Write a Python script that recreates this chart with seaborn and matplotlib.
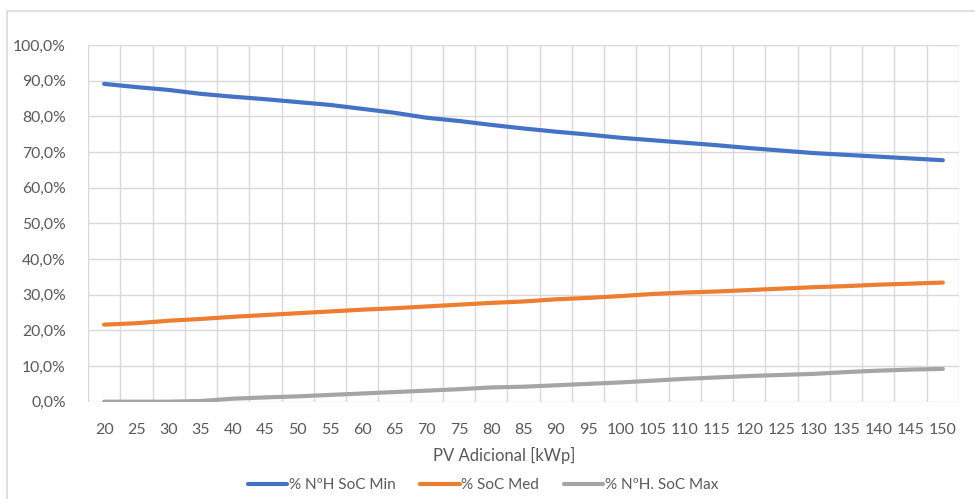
import numpy as np
import pandas as pd
import matplotlib
matplotlib.use("Agg")
import matplotlib.pyplot as plt
from matplotlib.ticker import FuncFormatter, MultipleLocator, FixedLocator
from matplotlib.patches import Rectangle
import seaborn as sns

# Additional PV capacity [kWp]
pv_kwp = list(range(20, 155, 5))

# Share of hours at minimum state of charge [%]
soc_min = [89.1, 88.2, 87.4, 86.3, 85.5, 84.8, 84.0, 83.2, 82.1, 81.0,
           79.6, 78.7, 77.6, 76.6, 75.7, 74.9, 74.0, 73.3, 72.6, 71.9,
           71.1, 70.4, 69.7, 69.2, 68.7, 68.2, 67.7]
# Mean state of charge [%]
soc_med = [21.6, 22.0, 22.7, 23.2, 23.8, 24.3, 24.8, 25.3, 25.8, 26.2,
           26.7, 27.2, 27.7, 28.1, 28.7, 29.1, 29.6, 30.2, 30.6, 30.9,
           31.3, 31.7, 32.1, 32.4, 32.8, 33.1, 33.4]
# Share of hours at maximum state of charge [%]
soc_max = [0.0, 0.0, 0.0, 0.2, 0.85, 1.2, 1.5, 1.9, 2.3, 2.7,
           3.1, 3.5, 4.0, 4.2, 4.6, 5.0, 5.4, 5.9, 6.4, 6.8,
           7.2, 7.5, 7.8, 8.3, 8.7, 9.0, 9.2]

series_names = ["% NºH SoC Min", "% SoC Med", "% NºH. SoC Max"]
series_colors = ["#4472C4", "#ED7D31", "#A5A5A5"]
x_label = "PV Adicional [kWp]"

df = pd.DataFrame({
    "pv": pv_kwp * 3,
    "value": soc_min + soc_med + soc_max,
    "serie": [series_names[0]] * len(pv_kwp)
             + [series_names[1]] * len(pv_kwp)
             + [series_names[2]] * len(pv_kwp),
})

sns.set_theme(style="white")
plt.rcParams["font.family"] = ["Lato", "DejaVu Sans"]
text_color = "#595959"
grid_color = "#D9D9D9"

fig = plt.figure(figsize=(9.75, 4.99), dpi=100)
ax = fig.add_axes([88 / 975, 1 - 401.7 / 499, (959 - 88) / 975, (401.7 - 45) / 499])

sns.lineplot(data=df, x="pv", y="value", hue="serie", hue_order=series_names,
             palette=series_colors, linewidth=3.0, ax=ax, legend=False,
             solid_capstyle="round")

ax.set_xlim(17.5, 152.5)
ax.set_ylim(0, 100)

# Category-style x axis: labels at each value, gridlines between them
ax.xaxis.set_major_locator(FixedLocator(pv_kwp))
ax.xaxis.set_minor_locator(FixedLocator([v - 2.5 for v in pv_kwp] + [pv_kwp[-1] + 2.5]))
ax.yaxis.set_major_locator(MultipleLocator(10))
ax.yaxis.set_major_formatter(FuncFormatter(lambda v, p: f"{v:.1f}%".replace(".", ",")))

ax.grid(False)
ax.grid(True, which="minor", axis="x", color=grid_color, linewidth=1.0)
ax.grid(True, which="major", axis="y", color=grid_color, linewidth=1.0)
ax.set_axisbelow(True)
for s in ax.spines.values():
    s.set_visible(False)

ax.tick_params(axis="both", which="both", length=0, labelcolor=text_color)
ax.tick_params(axis="x", pad=15, labelsize=11.5)
ax.tick_params(axis="y", pad=16, labelsize=11.3)
ax.set_xlabel("")
ax.set_ylabel("")

fig.text(504 / 975, 1 - 455 / 499, x_label, ha="center", va="center",
         fontsize=12, color=text_color)

handles = [plt.Line2D([], [], color=c, linewidth=3.0, solid_capstyle="round")
           for c in series_colors]
fig.legend(handles, series_names, loc="center", bbox_to_anchor=(483 / 975, 1 - 485 / 499),
           ncol=3, frameon=False, fontsize=11, labelcolor=text_color,
           handlelength=2.6, handletextpad=0.1, columnspacing=1.6)

# Chart area border
fig.patches.append(Rectangle((6.5 / 975, -0.1), 1.2, 1 - 10.5 / 499 + 0.1,
                             transform=fig.transFigure, fill=False,
                             edgecolor="#D9D9D9", linewidth=1.2))

fig.savefig("out.png", dpi=100)
